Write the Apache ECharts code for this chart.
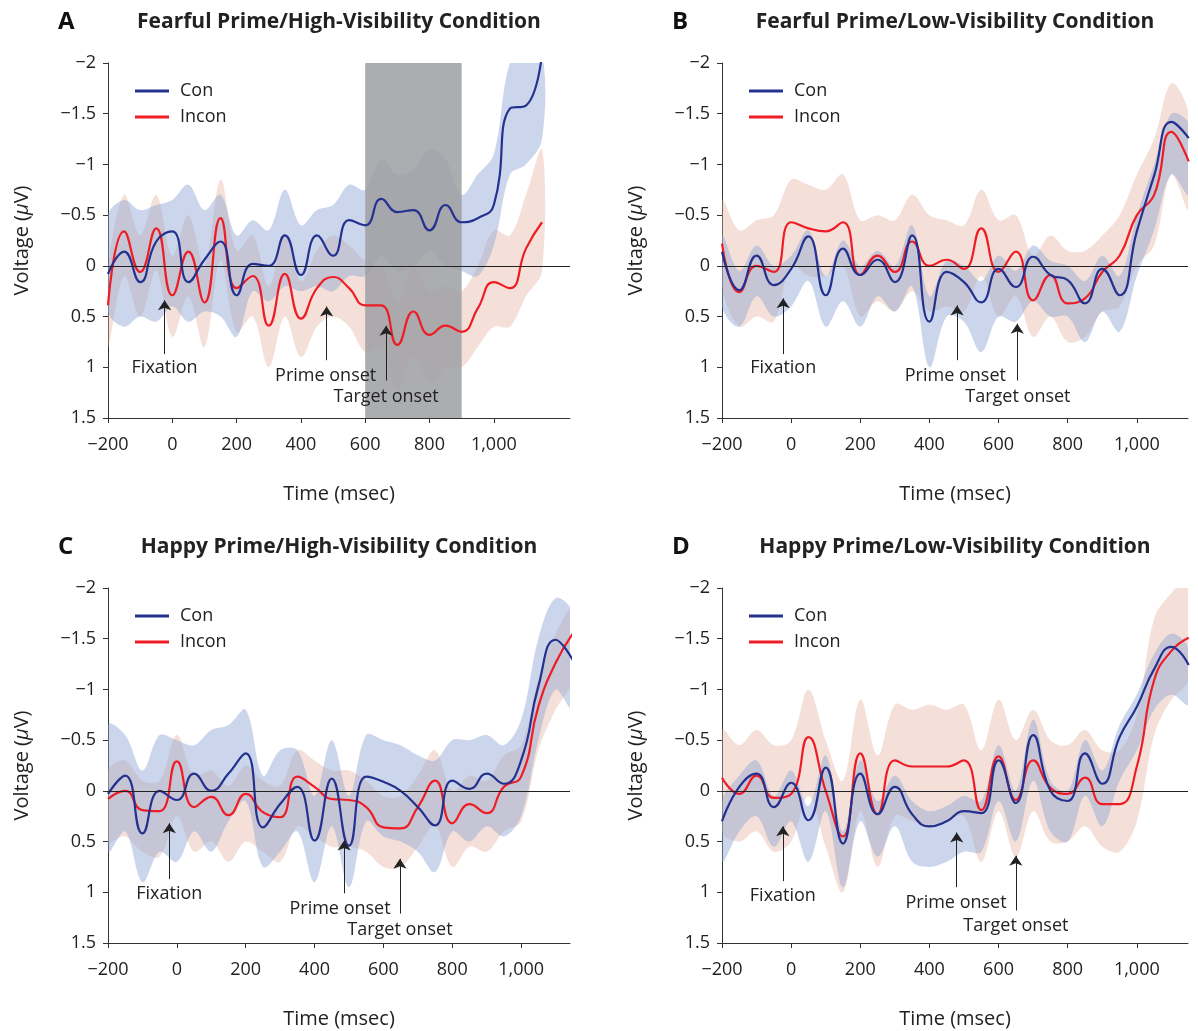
<!DOCTYPE html>
<html>
<head>
<meta charset="utf-8">
<script src="https://cdn.jsdelivr.net/npm/echarts@6/dist/echarts.min.js"></script>
<style>
  html, body { margin: 0; padding: 0; background: #fff; }
  #chart { width: 1198px; height: 1031px; }
</style>
</head>
<body>
<div id="chart"></div>
<script>
// time points (msec)
const T = [-200,-150,-100,-50,0,50,100,150,200,250,300,350,400,450,500,550,600,650,700,750,800,850,900,950,1000,1050,1100,1150];
const X_TICKS = [-200, 0, 200, 400, 600, 800, 1000];

// A: fearful / high visibility
const conA   = [0.08,-0.14,0.16,-0.24,-0.34,0.16,-0.06,-0.24,0.29,-0.02,0,-0.3,0.09,-0.3,-0.1,-0.45,-0.4,-0.66,-0.53,-0.55,-0.35,-0.6,-0.43,-0.47,-0.6,-1.55,-1.58,-2.1];
const conAHi = [-0.5,-0.65,-0.55,-0.6,-0.65,-0.8,-0.55,-0.7,-0.3,-0.45,-0.35,-0.75,-0.4,-0.55,-0.6,-0.8,-0.75,-1.05,-0.9,-0.95,-1.15,-1.05,-0.7,-0.9,-1.1,-2.0,-2.1,-2.1];
const conALo = [0.45,0.6,0.5,0.55,0.4,0.55,0.45,0.5,0.7,0.25,0.35,0.2,0.25,0.2,0.25,0.1,0.1,-0.1,0.05,0,-0.15,0,0.05,0.1,-0.2,-0.9,-1.0,-1.25];
const incA   = [0.39,-0.34,0.06,-0.37,0.29,-0.14,0.36,-0.47,0.22,0.1,0.59,0.08,0.52,0.22,0.11,0.22,0.39,0.39,0.78,0.45,0.68,0.59,0.65,0.42,0.16,0.22,-0.17,-0.43];
const incAHi = [0.05,-0.7,-0.3,-0.7,-0.1,-0.5,0,-0.85,-0.15,-0.3,0.2,-0.3,0.15,-0.15,-0.3,-0.2,-0.05,0,0.35,0,0.25,0.2,0.25,0,-0.35,-0.3,-0.7,-1.15];
const incALo = [0.8,0.1,0.5,0.05,0.7,0.3,0.8,-0.05,0.65,0.5,1.0,0.5,0.9,0.6,0.5,0.6,0.85,0.8,1.2,0.9,1.15,1.0,1.0,0.8,0.6,0.6,0.3,0.05];
const shadeA = [600, 900];

// B: fearful / low visibility
const conB   = [-0.14,0.24,-0.1,0.19,0.03,-0.29,0.29,-0.17,0.09,-0.06,0.16,-0.3,0.55,0.06,0.16,0.36,0.03,0.21,-0.09,0.09,0.14,0.37,0.03,0.29,-0.34,-0.89,-1.42,-1.26];
const conBHi = [-0.3,0.05,-0.2,0,-0.1,-0.35,0.1,-0.25,0,-0.15,0,-0.4,0.3,-0.05,0,0.15,-0.1,0.05,-0.2,-0.05,0,0.15,-0.1,0.1,-0.5,-1.0,-1.5,-1.4];
const conBLo = [0.4,0.6,0.3,0.5,0.4,0.15,0.6,0.35,0.6,0.3,0.45,0.2,1.0,0.5,0.55,0.85,0.5,0.55,0.35,0.5,0.5,0.75,0.45,0.65,0.1,-0.35,-0.9,-0.7];
const incB   = [-0.22,0.26,0,0.06,-0.43,-0.37,-0.34,-0.43,0.09,-0.1,0.06,-0.24,0,-0.06,0.03,-0.37,0.06,-0.14,0.34,0.09,0.37,0.32,0.06,-0.1,-0.5,-0.7,-1.32,-1.03];
const incBHi = [-0.65,-0.35,-0.45,-0.5,-0.85,-0.8,-0.75,-0.9,-0.45,-0.5,-0.45,-0.7,-0.5,-0.45,-0.4,-0.75,-0.45,-0.5,-0.1,-0.3,-0.15,-0.15,-0.3,-0.5,-0.9,-1.25,-1.8,-1.5];
const incBLo = [0.2,0.6,0.5,0.55,0,0.1,0.1,0,0.5,0.35,0.45,0.25,0.45,0.4,0.45,0.1,0.5,0.3,0.7,0.5,0.75,0.7,0.45,0.4,0,-0.2,-0.9,-0.55];

// C: happy / high visibility
const conC   = [0.03,-0.15,0.42,0,0.09,-0.17,0,-0.17,-0.37,0.36,0.13,-0.04,0.49,-0.12,0.54,-0.14,-0.09,0,0.16,0.34,-0.1,-0.02,-0.17,-0.07,-0.3,-1.03,-1.49,-1.29];
const conCHi = [-0.65,-0.55,-0.2,-0.55,-0.5,-0.45,-0.6,-0.65,-0.8,-0.15,-0.4,-0.4,0.05,-0.5,0.05,-0.55,-0.5,-0.45,-0.35,-0.3,-0.5,-0.5,-0.55,-0.45,-0.7,-1.5,-1.9,-1.75];
const conCLo = [0.6,0.4,0.9,0.6,0.7,0.4,0.6,0.3,0.1,0.75,0.6,0.4,0.9,0.35,0.95,0.3,0.45,0.5,0.6,0.8,0.4,0.5,0.35,0.45,0.25,-0.5,-1.0,-0.8];
const incC   = [0.08,0,0.19,0.2,-0.29,0.16,0.06,0.24,0.03,0.21,0.26,-0.14,-0.04,0.08,0.09,0.16,0.36,0.37,0.16,-0.1,0.32,0.13,0.22,-0.04,-0.14,-0.83,-1.26,-1.55];
const incCHi = [-0.2,-0.3,-0.1,-0.1,-0.55,-0.15,-0.2,-0.05,-0.25,-0.1,-0.05,-0.4,-0.3,-0.2,-0.2,-0.1,0.05,0.05,-0.15,-0.4,0,-0.15,-0.1,-0.35,-0.45,-1.1,-1.55,-1.8];
const incCLo = [0.5,0.45,0.6,0.65,0.25,0.6,0.5,0.7,0.5,0.6,0.7,0.35,0.45,0.55,0.55,0.6,0.75,0.75,0.55,0.35,0.75,0.55,0.6,0.4,0.3,-0.4,-0.8,-1.1];

// D: happy / low visibility
const conD   = [0.3,-0.04,-0.17,0.16,-0.08,0.29,-0.23,0.52,-0.17,0.23,-0.04,0.23,0.35,0.3,0.2,0.22,-0.3,0.12,-0.55,0,0.1,-0.37,-0.07,-0.53,-0.83,-1.2,-1.42,-1.24];
const conDHi = [0.1,-0.15,-0.3,0.05,-0.2,0.15,-0.35,0.4,-0.3,0.1,-0.15,0.1,0.2,0.15,0.05,0.1,-0.45,0,-0.7,-0.1,0,-0.5,-0.2,-0.65,-0.95,-1.35,-1.55,-1.4];
const conDLo = [0.7,0.4,0.25,0.55,0.3,0.7,0.2,0.95,0.3,0.65,0.35,0.7,0.75,0.7,0.6,0.6,0.1,0.5,-0.1,0.4,0.5,0.05,0.35,-0.1,-0.4,-0.8,-0.95,-0.85];
const incD   = [-0.13,0.03,-0.15,0.07,0.03,-0.53,0,0.45,-0.37,0.23,-0.3,-0.24,-0.24,-0.24,-0.3,0.19,-0.34,0.09,-0.3,-0.03,0.03,-0.13,0.13,0.13,-0.24,-1.09,-1.38,-1.51];
const incDHi = [-0.6,-0.45,-0.6,-0.45,-0.5,-1.0,-0.5,-0.1,-0.9,-0.35,-0.85,-0.8,-0.85,-0.8,-0.85,-0.4,-0.9,-0.5,-0.8,-0.5,-0.45,-0.6,-0.4,-0.4,-0.75,-1.7,-1.95,-2.1];
const incDLo = [0.4,0.5,0.4,0.6,0.5,0.05,0.55,1.0,0.2,0.75,0.25,0.3,0.35,0.3,0.25,0.7,0.2,0.65,0.2,0.5,0.5,0.35,0.55,0.6,0.3,-0.55,-0.9,-1.1];

// annotations: [label, x, arrow tip, arrow tail, label x, label y]
const annA = [['Fixation',-24,0.34,0.87,-24,1.01],['Prime onset',480,0.40,0.93,477,1.08],['Target onset',665,0.59,1.13,665,1.29]];
const annB = [['Fixation',-23,0.32,0.87,-23,1.01],['Prime onset',480,0.39,0.93,475,1.08],['Target onset',654,0.57,1.13,656,1.29]];
const annC = [['Fixation',-22,0.32,0.87,-22,1.02],['Prime onset',486,0.49,1.01,474,1.16],['Target onset',648,0.67,1.21,648,1.37]];
const annD = [['Fixation',-24,0.35,0.89,-24,1.04],['Prime onset',479,0.41,0.95,477,1.10],['Target onset',650,0.64,1.18,650,1.33]];

const BLUE = '#24318f', RED = '#ee1d25';
const BLUE_BAND = 'rgba(140,165,212,0.45)', RED_BAND = 'rgba(228,178,158,0.4)';
const FONT = 'Open Sans';

const panels = [
  { letter: 'A', title: 'Fearful Prime/High-Visibility Condition', left: 108, top: 63, width: 462, xmax: 1237,
    con: conA, conHi: conAHi, conLo: conALo, inc: incA, incHi: incAHi, incLo: incALo, ann: annA, shade: shadeA },
  { letter: 'B', title: 'Fearful Prime/Low-Visibility Condition', left: 722, top: 63, width: 466, xmax: 1148,
    con: conB, conHi: conBHi, conLo: conBLo, inc: incB, incHi: incBHi, incLo: incBLo, ann: annB },
  { letter: 'C', title: 'Happy Prime/High-Visibility Condition', left: 108, top: 588, width: 462, xmax: 1142,
    con: conC, conHi: conCHi, conLo: conCLo, inc: incC, incHi: incCHi, incLo: incCLo, ann: annC },
  { letter: 'D', title: 'Happy Prime/Low-Visibility Condition', left: 722, top: 588, width: 466, xmax: 1148,
    con: conD, conHi: conDHi, conLo: conDLo, inc: incD, incHi: incDHi, incLo: incDLo, ann: annD }
];

const minus = v => (v < 0 ? '\u2212' + (-v) : String(v));

function clipRect(params) {
  const c = params.coordSys;
  return { type: 'rect', shape: { x: c.x, y: c.y, width: c.width, height: c.height } };
}

function band(lo, hi, fill) {
  return function (params, api) {
    const pts = [];
    for (let i = 0; i < T.length; i++) pts.push(api.coord([T[i], hi[i]]));
    for (let i = T.length - 1; i >= 0; i--) pts.push(api.coord([T[i], lo[i]]));
    return { type: 'polygon', shape: { points: pts, smooth: 0.35 }, style: { fill: fill }, clipPath: clipRect(params) };
  };
}

function shade(range) {
  return function (params, api) {
    const a = api.coord([range[0], -2]);
    const b = api.coord([range[1], 1.5]);
    return { type: 'rect', shape: { x: a[0], y: a[1], width: b[0] - a[0], height: b[1] - a[1] },
      style: { fill: 'rgba(158,160,163,0.86)' } };
  };
}

const option = { animation: false, title: [], legend: [], grid: [], xAxis: [], yAxis: [], series: [] };

panels.forEach((p, k) => {
  option.grid.push({ left: p.left, top: p.top, width: p.width, height: 355 });
  option.title.push({ text: p.letter, left: p.left - 55, top: p.top - 58,
    textStyle: { fontFamily: FONT, fontSize: 24, fontWeight: 'bold', color: '#111' } });
  option.title.push({ text: p.title, left: p.left + p.width / 2 - 5, top: p.top - 56, textAlign: 'center',
    textStyle: { fontFamily: FONT, fontSize: 21, fontWeight: 'bold', color: '#222' } });
  option.legend.push({ left: p.left + 22, top: p.top + 14, orient: 'vertical', itemGap: 8,
    icon: 'rect', itemWidth: 34, itemHeight: 3, data: ['Con', 'Incon'],
    textStyle: { fontFamily: FONT, fontSize: 18, color: '#222', padding: [0, 0, 0, 6] } });
  option.xAxis.push({
    type: 'value', gridIndex: k, min: -200, max: p.xmax, interval: 200,
    name: 'Time (msec)', nameLocation: 'middle', nameGap: 66,
    nameTextStyle: { fontFamily: FONT, fontSize: 20, color: '#222' },
    axisLine: { onZero: false, lineStyle: { color: '#333', width: 1 } },
    axisTick: { length: 5, lineStyle: { color: '#333' }, customValues: X_TICKS },
    splitLine: { show: false },
    axisLabel: { fontFamily: FONT, fontSize: 18, color: '#222', margin: 18, customValues: X_TICKS,
      formatter: v => (v === 1000 ? '1,000' : minus(v)) }
  });
  option.yAxis.push({
    type: 'value', gridIndex: k, min: -2, max: 1.5, interval: 0.5, inverse: true,
    name: '{a|Voltage (}{b|\u03bc}{a|V)}', nameLocation: 'middle', nameGap: 76, nameRotate: 90,
    nameTextStyle: { rich: { a: { fontFamily: FONT, fontSize: 20, color: '#222' }, b: { fontFamily: FONT, fontSize: 20, fontStyle: 'italic', color: '#222' } } },
    axisLine: { show: true, onZero: false, lineStyle: { color: '#333', width: 1 } },
    axisTick: { show: true, length: 5, lineStyle: { color: '#333' } },
    splitLine: { show: false },
    axisLabel: { fontFamily: FONT, fontSize: 18, color: '#222', margin: 12, formatter: minus }
  });

  const base = { xAxisIndex: k, yAxisIndex: k };
  option.series.push(Object.assign({ type: 'custom', name: 'incBand', silent: true, z: 1, data: [[0]],
    renderItem: band(p.incLo, p.incHi, RED_BAND) }, base));
  option.series.push(Object.assign({ type: 'custom', name: 'conBand', silent: true, z: 1, data: [[0]],
    renderItem: band(p.conLo, p.conHi, BLUE_BAND) }, base));

  if (p.shade) {
    option.series.push(Object.assign({ type: 'custom', name: 'shade', silent: true, z: 2, data: [[0]],
      renderItem: shade(p.shade) }, base));
  }

  option.series.push(Object.assign({ type: 'line', name: 'Con', z: 4, smooth: 0.5, showSymbol: false,
    data: T.map((t, i) => [t, p.con[i]]), color: BLUE, lineStyle: { color: BLUE, width: 2.2 },
    markLine: { silent: true, symbol: 'none', label: { show: false },
      lineStyle: { color: '#222', width: 1, type: 'solid' }, data: [{ yAxis: 0 }] } }, base));
  option.series.push(Object.assign({ type: 'line', name: 'Incon', z: 3, smooth: 0.5, showSymbol: false,
    data: T.map((t, i) => [t, p.inc[i]]), color: RED, lineStyle: { color: RED, width: 2.2 } }, base));

  option.series.push(Object.assign({ type: 'line', name: 'ann', data: [], z: 5, silent: true,
    markLine: { silent: true, symbol: ['none', 'arrow'], symbolSize: 10, label: { show: false },
      lineStyle: { color: '#222', width: 1, type: 'solid' },
      data: p.ann.map(a => [{ coord: [a[1], a[3]] }, { coord: [a[1], a[2]] }]) },
    markPoint: { silent: true, symbolSize: 0,
      label: { show: true, position: 'inside', fontFamily: FONT, fontSize: 18, color: '#222',
        formatter: d => d.name },
      data: p.ann.map(a => ({ name: a[0], coord: [a[4], a[5]] })) } }, base));
});

const chart = echarts.init(document.getElementById('chart'));
chart.setOption(option);
</script>
</body>
</html>
